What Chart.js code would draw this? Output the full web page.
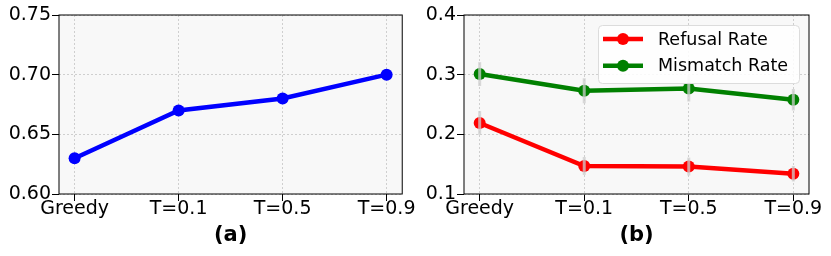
<!DOCTYPE html>
<html>
<head>
<meta charset="utf-8">
<script src="https://cdn.jsdelivr.net/npm/chart.js@4"></script>
<style>
  html, body { margin: 0; padding: 0; background: #fff; }
  #wrap { position: relative; width: 831px; height: 256px; }
  .pane { position: absolute; top: 0; height: 256px; }
  #paneA { left: 0; width: 415px; }
  #paneB { left: 415px; width: 416px; }
</style>
</head>
<body>
<div id="wrap">
  <div class="pane" id="paneA"><canvas id="chartA"></canvas></div>
  <div class="pane" id="paneB"><canvas id="chartB"></canvas></div>
</div>
<script>
const xLabels = ['Greedy', 'T=0.1', 'T=0.5', 'T=0.9'];

// panel (a)
const accuracy = [0.63, 0.67, 0.68, 0.70];
const yTicksA = [0.60, 0.65, 0.70, 0.75];

// panel (b)
const refusalRate = [0.219, 0.147, 0.146, 0.134];
const refusalErr = [0.020, 0.015, 0.015, 0.013];
const mismatchRate = [0.301, 0.273, 0.277, 0.258];
const mismatchErr = [0.020, 0.021, 0.022, 0.018];
const yTicksB = [0.1, 0.2, 0.3, 0.4];

const FONT = 'DejaVu Sans';

const toPoints = vals => vals.map((v, i) => ({ x: i, y: v }));

// grey plot background + full black frame like matplotlib spines
const frame = {
  id: 'frame',
  beforeDraw(chart) {
    const { ctx, chartArea: a } = chart;
    ctx.save();
    ctx.fillStyle = '#f8f8f8';
    ctx.fillRect(a.left, a.top, a.right - a.left, a.bottom - a.top);
    ctx.restore();
  },
  afterDraw(chart) {
    const { ctx, chartArea: a } = chart;
    ctx.save();
    ctx.strokeStyle = '#000';
    ctx.lineWidth = 1;
    ctx.strokeRect(a.left, a.top, a.right - a.left, a.bottom - a.top);
    ctx.restore();
  }
};

// vertical error bars, drawn through the chart scales
const errorBars = {
  id: 'errorBars',
  afterDatasetsDraw(chart) {
    const { ctx, scales: { x, y } } = chart;
    ctx.save();
    ctx.strokeStyle = 'rgba(205,205,205,0.75)';
    ctx.lineWidth = 3;
    chart.data.datasets.forEach(ds => {
      if (!ds.errors) return;
      ds.data.forEach((p, i) => {
        const px = x.getPixelForValue(p.x);
        const lo = y.getPixelForValue(p.y - ds.errors[i]);
        const hi = y.getPixelForValue(p.y + ds.errors[i]);
        ctx.beginPath();
        ctx.moveTo(px, lo);
        ctx.lineTo(px, hi);
        ctx.stroke();
      });
    });
    ctx.restore();
  }
};

// matplotlib style legend: line with marker, inside upper right
const lineLegend = {
  id: 'lineLegend',
  afterDraw(chart) {
    const { ctx, chartArea: a } = chart;
    const sets = chart.data.datasets;
    const boxW = 201, boxH = 58;
    const bx = a.right - 10 - boxW, by = a.top + 10;
    ctx.save();
    ctx.beginPath();
    ctx.roundRect(bx + 0.5, by + 0.5, boxW, boxH, 4);
    ctx.fillStyle = 'rgba(255,255,255,0.85)';
    ctx.fill();
    ctx.strokeStyle = '#dcdcdc';
    ctx.lineWidth = 1;
    ctx.stroke();
    ctx.font = '17.5px "' + FONT + '"';
    ctx.textBaseline = 'middle';
    sets.forEach((ds, i) => {
      const cy = by + 14 + i * 26.7;
      ctx.strokeStyle = ds.borderColor;
      ctx.lineWidth = 4.5;
      ctx.beginPath();
      ctx.moveTo(bx + 5, cy);
      ctx.lineTo(bx + 45, cy);
      ctx.stroke();
      ctx.fillStyle = ds.borderColor;
      ctx.beginPath();
      ctx.arc(bx + 25, cy, 6, 0, Math.PI * 2);
      ctx.fill();
      ctx.fillStyle = '#000';
      ctx.fillText(ds.label, bx + 60, cy + 1);
    });
    ctx.restore();
  }
};

const gridStyle = {
  color: '#c4c4c4',
  lineWidth: 0.8,
  tickColor: '#000',
  tickLength: 7,
  tickWidth: 1
};

function makeOptions(yMin, yMax, yTicks, decimals, yWidth, rightPad, title) {
  return {
    responsive: true,
    maintainAspectRatio: false,
    animation: false,
    events: [],
    layout: { padding: { top: 15, right: rightPad, left: 0, bottom: 0 } },
    plugins: { legend: { display: false }, tooltip: { enabled: false } },
    scales: {
      x: {
        type: 'linear',
        min: -0.15,
        max: 3.15,
        afterBuildTicks: s => { s.ticks = xLabels.map((_, i) => ({ value: i })); },
        afterFit: s => { s.height = 62; },
        ticks: {
          callback: v => xLabels[v],
          color: '#000',
          font: { family: FONT, size: 19, lineHeight: 1 },
          padding: -1,
          maxRotation: 0,
          autoSkip: false
        },
        grid: gridStyle,
        border: { display: false, dash: [2, 2] },
        title: {
          display: true,
          text: title,
          color: '#000',
          font: { family: FONT, size: 21, weight: 'bold', lineHeight: 1 },
          padding: { top: 0, bottom: 10 }
        }
      },
      y: {
        min: yMin,
        max: yMax,
        afterBuildTicks: s => { s.ticks = yTicks.map(v => ({ value: v })); },
        afterFit: s => { s.width = yWidth; },
        ticks: {
          callback: v => v.toFixed(decimals),
          color: '#000',
          font: { family: FONT, size: 19, lineHeight: 1 },
          padding: 1
        },
        grid: gridStyle,
        border: { display: false, dash: [2, 2] }
      }
    }
  };
}

function lineSet(label, values, color, errors) {
  return {
    label: label,
    data: toPoints(values),
    errors: errors,
    borderColor: color,
    backgroundColor: color,
    borderWidth: 4.5,
    pointRadius: 6,
    pointBorderWidth: 0,
    pointBackgroundColor: color,
    tension: 0
  };
}

new Chart(document.getElementById('chartA'), {
  type: 'line',
  data: { datasets: [lineSet('Accuracy', accuracy, '#0000ff')] },
  options: makeOptions(0.60, 0.75, yTicksA, 2, 59, 11, '(a)'),
  plugins: [frame]
});

new Chart(document.getElementById('chartB'), {
  type: 'line',
  data: {
    datasets: [
      lineSet('Refusal Rate', refusalRate, '#ff0000', refusalErr),
      lineSet('Mismatch Rate', mismatchRate, '#008000', mismatchErr)
    ]
  },
  options: makeOptions(0.1, 0.4, yTicksB, 1, 49, 22, '(b)'),
  plugins: [frame, errorBars, lineLegend]
});
</script>
</body>
</html>
